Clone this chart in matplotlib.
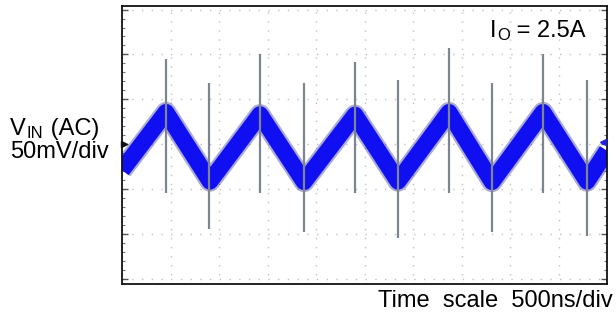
"""
Осциллограмма пульсаций входного напряжения (I_O = 2.5A)
"""

import matplotlib.pyplot as plt
import numpy as np

plt.rcParams['font.family'] = ['Liberation Sans', 'DejaVu Sans']

# Значения, в делениях экрана (x: 0..10, y: центр = 0)
trace_x = [0.0, 0.907, 1.814, 2.845, 3.753, 4.804, 5.691, 6.742, 7.629, 8.680, 9.588, 10.0]
trace_y = [-0.58, 0.71, -0.83, 0.66, -0.84, 0.65, -0.83, 0.71, -0.84, 0.71, -0.83, -0.15]

# Выбросы при переключении
spike_x = [0.907, 2.845, 4.804, 6.742, 8.680, 1.794, 3.753, 5.691, 7.629, 9.588]
spike_top = [1.90, 2.01, 1.83, 2.14, 2.01, 1.36, 1.36, 1.43, 1.36, 1.43]
spike_bottom = [-1.09, -1.09, -1.09, -1.09, -1.09, -1.90, -1.96, -2.10, -1.96, -2.05]

ground_level = 0.0
n_xdiv = 10

fig = plt.figure(figsize=(6.16, 3.18), dpi=100)
ax = fig.add_axes([122/616, 34/318, 485/616, 278/318])

ax.set_xlim(0, n_xdiv)
ax.set_ylim(-3.12, 3.08)

# Сетка осциллографа
ax.set_xticks(np.arange(0, n_xdiv + 1))
ax.set_yticks(np.arange(-3, 4))
ax.set_yticks(np.arange(-3, 3.01, 0.2), minor=True)
ax.xaxis.grid(True, color='#c0c0c0', linestyle=(0, (1, 5.5)), linewidth=1.0)
ax.yaxis.grid(True, color='#c0c0c0', linestyle=(0, (1, 6)), linewidth=1.0)
ax.tick_params(axis='x', length=0, labelbottom=False)
ax.tick_params(axis='y', which='major', direction='in', length=4, width=1,
               color='#555555', left=True, right=True, labelleft=False)
ax.tick_params(axis='y', which='minor', direction='in', length=2.5, width=0.8,
               color='#777777', left=True, right=True)
for s in ax.spines.values():
    s.set_linewidth(1.3)
    s.set_color('#111111')

# Сигнал
ax.plot(trace_x, trace_y, color='#10108a', lw=15, alpha=0.35,
        solid_joinstyle='round', solid_capstyle='butt', zorder=2)
ax.plot(trace_x, trace_y, color='#0f0ff2', lw=12,
        solid_joinstyle='round', solid_capstyle='butt', zorder=2)
ax.vlines(spike_x, spike_bottom, spike_top, color='#7d8590', lw=1.6, zorder=3)

# Маркеры уровня
ax.plot(0.05, ground_level, marker='>', ms=5, color='#111111', clip_on=False, zorder=4)
ax.plot(n_xdiv - 0.08, ground_level + 0.05, marker='<', ms=5, color='#2020e0',
        clip_on=False, zorder=4)

# Подписи
fs = 17
fig.text(490/616, 1 - 37/318, 'I', fontsize=fs, va='baseline')
fig.text(497/616, 1 - 40/318, 'O', fontsize=12, va='baseline')
fig.text(510/616, 1 - 37/318, ' = 2.5A', fontsize=fs, va='baseline')
fig.text(10/616, 1 - 135/318, 'V', fontsize=fs, va='baseline')
fig.text(26/616, 1 - 138/318, 'IN', fontsize=12, va='baseline')
fig.text(44/616, 1 - 135/318, ' (AC)', fontsize=fs, va='baseline')
fig.text(10/616, 1 - 158/318, '50mV/div', fontsize=fs, va='baseline')
fig.text(378/616, 1 - 307/318, 'Time  scale  500ns/div', fontsize=fs, va='baseline')

plt.savefig('out.png', dpi=100)
